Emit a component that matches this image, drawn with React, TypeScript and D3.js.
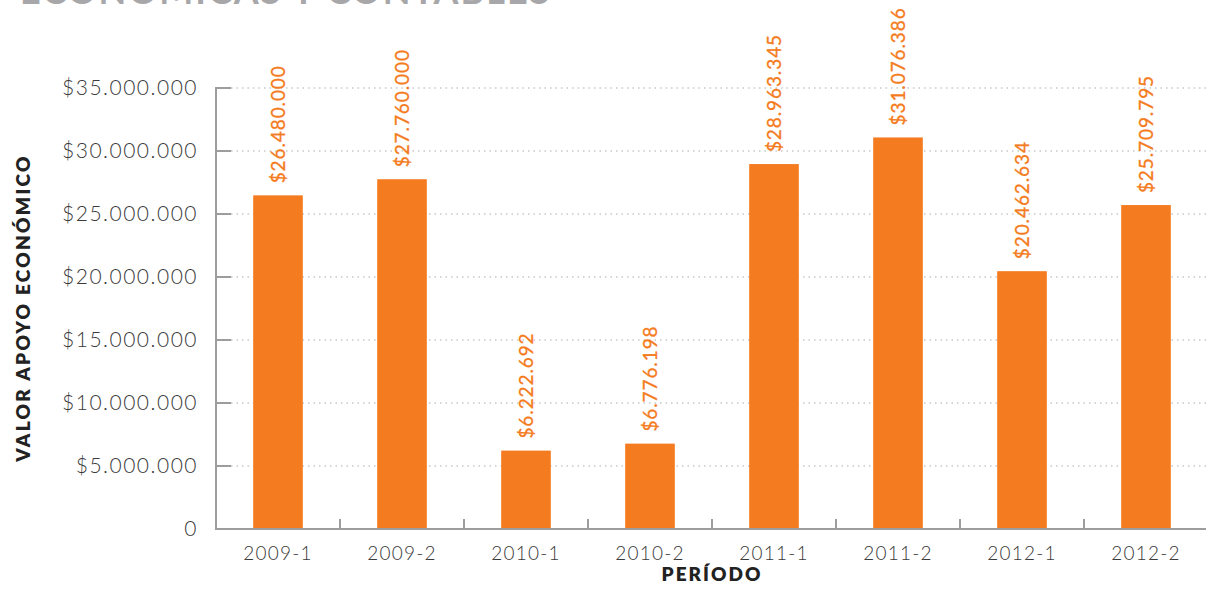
import React from "react";
import * as d3 from "d3";

const categories = ["2009-1", "2009-2", "2010-1", "2010-2", "2011-1", "2011-2", "2012-1", "2012-2"];
const values = [26480000, 27760000, 6222692, 6776198, 28963345, 31076386, 20462634, 25709795];
const yTicks = [0, 5000000, 10000000, 15000000, 20000000, 25000000, 30000000, 35000000];

const W = 1206, H = 592;
const left = 216, right = 1208, top = 88, bottom = 529;
const FONT = "Lato, 'Open Sans', sans-serif";
const ORANGE = "#f47b20";

const fmt = (v: number) => v === 0 ? "0" : "$" + d3.format(",")(v).replace(/,/g, ".");

export default function App() {
  const x = d3.scaleBand<string>().domain(categories).range([left, right]).paddingInner(0.6).paddingOuter(0.3);
  const xb = d3.scaleBand<string>().domain(categories).range([left, right]);
  const y = d3.scaleLinear().domain([0, 35000000]).range([bottom, top]);
  return (
    <svg width={W} height={H} style={{ position: "absolute", left: 0, top: 0 }}>
      <text x={20} y={4} fontFamily={FONT} fontWeight={700} fontSize={36} fill="#a7a7a9" letterSpacing={2}>ECONÓMICAS Y CONTABLES</text>
      {yTicks.map(t => (
        <g key={t}>
          {t > 0 && <line x1={231} x2={W} y1={y(t)} y2={y(t)} stroke="#c8c8c8" strokeWidth={1.3} strokeDasharray="1.5 4" />}
          {t > 0 && <line x1={left} x2={231} y1={y(t)} y2={y(t)} stroke="#9d9da0" strokeWidth={2} />}
          <text x={198} y={y(t)} dy="0.35em" textAnchor="end" fontFamily={FONT} fontWeight={300} fontSize={21} letterSpacing={1.5} fill="#3a3a3a">{fmt(t)}</text>
        </g>
      ))}
      {categories.map((c, i) => (
        <g key={c}>
          <rect x={x(c)} y={y(values[i])} width={x.bandwidth()} height={bottom - y(values[i])} fill={ORANGE} />
          <text transform={`translate(${x(c)! + x.bandwidth() / 2},${y(values[i]) - 12}) rotate(-90)`} dy="0.35em" fontFamily={FONT} fontWeight={400} fontSize={19} letterSpacing={0.9} fill={ORANGE} stroke={ORANGE} strokeWidth={0.3}>{fmt(values[i])}</text>
          <text x={xb(c)! + xb.bandwidth() / 2} y={553} dy="0.35em" textAnchor="middle" fontFamily={FONT} fontWeight={300} fontSize={19} letterSpacing={1.2} fill="#3a3a3a">{c}</text>
          {i > 0 && <line x1={xb(c)} x2={xb(c)} y1={bottom} y2={bottom - 10} stroke="#9d9da0" strokeWidth={2} />}
        </g>
      ))}
      <line x1={left} x2={left} y1={top - 1} y2={bottom + 1} stroke="#9d9da0" strokeWidth={2} />
      <line x1={left - 1} x2={W} y1={bottom} y2={bottom} stroke="#9d9da0" strokeWidth={2} />
      <text x={712} y={581} textAnchor="middle" fontFamily={FONT} fontWeight={800} fontSize={19} letterSpacing={2} fill="#222">PERÍODO</text>
      <text transform={`translate(30,308) rotate(-90)`} textAnchor="middle" fontFamily={FONT} fontWeight={800} fontSize={19} letterSpacing={2.3} fill="#222">VALOR APOYO ECONÓMICO</text>
    </svg>
  );
}
